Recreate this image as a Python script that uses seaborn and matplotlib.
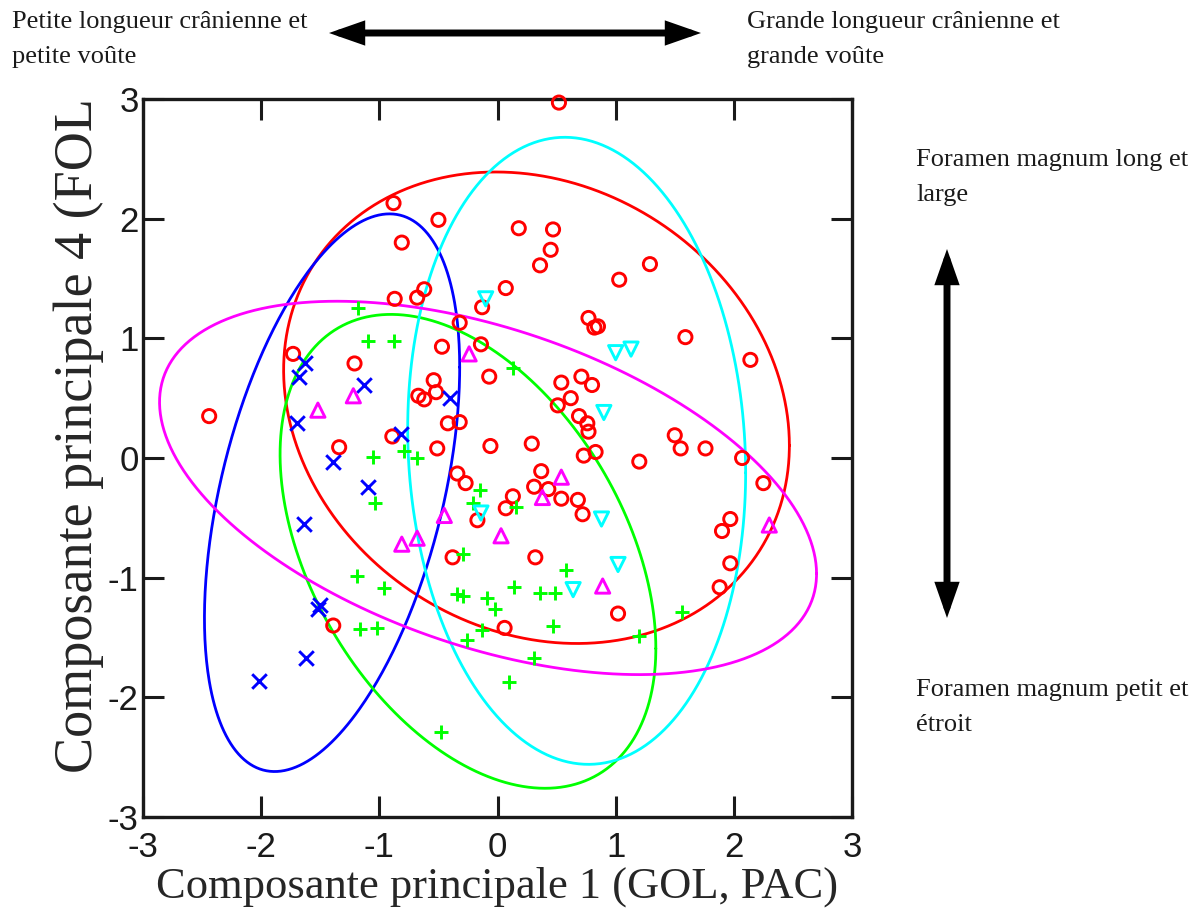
import numpy as np
import pandas as pd
import matplotlib
matplotlib.use('Agg')
from matplotlib import pyplot as plt
from matplotlib.patches import FancyArrowPatch

import seaborn as sns
sns.set_theme(style='ticks', rc={
    'axes.edgecolor': 'k',
    'xtick.color': 'k',
    'ytick.color': 'k',
    'text.color': 'k',
})
plt.rcParams['font.family'] = ['Liberation Serif', 'DejaVu Serif']

W, H = 1199, 911

# groupe 1 : cercles rouges
red_x = [-0.88, -0.50, -0.81, -0.62, -0.87, -0.68, -0.13, 0.07, -0.32, -1.73,
         -1.21, -0.47, -0.14, -0.07, -0.54, -0.52, -0.67, -0.62, -2.44, -0.32,
         -0.42, -0.89, -0.06, -0.51, -1.34, 0.52, 0.18, 0.47, 0.45, 0.36,
         1.29, 1.03, 0.77, 0.82, 0.85, 1.59, 2.14, 0.54, 0.71, 0.80,
         0.62, 0.51, 0.69, 0.76, 0.77, 0.29, 1.50, 1.55, 1.76, 2.07,
         0.73, 0.83, 1.20, 2.25, 0.37, 0.31, 0.43, 0.13, 0.07, 0.54,
         0.68, 0.72, 1.97, 1.90, 1.97, 1.88, 0.32, 1.02, 0.06, -0.34,
         -0.27, -0.17, -0.38, -1.39]
red_y = [2.13, 1.99, 1.80, 1.41, 1.33, 1.34, 1.26, 1.42, 1.13, 0.87,
         0.79, 0.93, 0.95, 0.68, 0.65, 0.55, 0.52, 0.49, 0.35, 0.30,
         0.29, 0.18, 0.10, 0.08, 0.09, 2.97, 1.92, 1.91, 1.74, 1.61,
         1.62, 1.49, 1.17, 1.09, 1.10, 1.01, 0.82, 0.63, 0.68, 0.61,
         0.50, 0.44, 0.35, 0.29, 0.22, 0.12, 0.19, 0.08, 0.08, 0.00,
         0.02, 0.05, -0.03, -0.21, -0.11, -0.24, -0.26, -0.32, -0.42, -0.34,
         -0.35, -0.47, -0.51, -0.61, -0.88, -1.08, -0.83, -1.30, -1.42, -0.13,
         -0.21, -0.52, -0.83, -1.40]

# groupe 2 : croix bleues
blue_x = [-1.63, -1.68, -1.13, -0.40, -1.70, -0.82, -1.39, -1.10, -1.64, -1.50,
          -1.52, -1.62, -2.02]
blue_y = [0.79, 0.68, 0.61, 0.50, 0.29, 0.20, -0.03, -0.24, -0.55, -1.23,
          -1.26, -1.67, -1.86]

# groupe 3 : plus verts
green_x = [-1.18, -1.10, -0.88, 0.13, -1.05, -0.79, -0.68, -0.15, -0.21, -1.04,
           0.16, -0.29, -1.19, -0.96, -0.34, -0.29, -0.09, -0.02, -1.16, -1.02,
           -0.26, -0.13, -0.48, 0.58, 0.14, 0.36, 0.49, 0.47, 1.56, 1.20,
           0.31, 0.10]
green_y = [1.25, 0.98, 0.98, 0.75, 0.01, 0.06, 0.00, -0.27, -0.38, -0.38,
           -0.41, -0.80, -0.99, -1.09, -1.14, -1.15, -1.17, -1.26, -1.43, -1.42,
           -1.52, -1.44, -2.29, -0.94, -1.08, -1.13, -1.13, -1.40, -1.29, -1.49,
           -1.67, -1.87]

# groupe 4 : triangles magenta
mag_x = [-0.24, -1.22, -1.52, -0.45, -0.68, -0.81, 0.03, 0.54, 0.38, 2.30, 0.89]
mag_y = [0.87, 0.52, 0.40, -0.48, -0.67, -0.72, -0.65, -0.16, -0.33, -0.56, -1.07]

# groupe 5 : triangles inverses cyan
cyan_x = [-0.10, 1.00, 1.13, 0.90, -0.14, 0.88, 1.02, 0.64]
cyan_y = [1.33, 0.88, 0.91, 0.38, -0.46, -0.51, -0.89, -1.10]

# ellipses : centre, etendue x/y, correlation
ell_colors = ['#ff0000', '#0000ff', '#00ff00', '#00ffff', '#ff00ff']
ell_cx = [0.33, -1.40, -0.25, 0.67, -0.08]
ell_cy = [0.42, -0.29, -0.78, 0.06, -0.25]
ell_sx = [2.14, 1.08, 1.59, 1.43, 2.78]
ell_sy = [1.97, 2.33, 1.98, 2.62, 1.56]
ell_r = [-0.16, 0.45, -0.41, -0.07, -0.46]

ticks = [-3, -2, -1, 0, 1, 2, 3]
tick_labels = ['-3', '-2', '-1', '0', '1', '2', '3']

groups = [
    (red_x, red_y, '#ff0000', 'o', True),
    (green_x, green_y, '#00ff00', '+', False),
    (blue_x, blue_y, '#0000ff', 'x', False),
    (mag_x, mag_y, '#ff00ff', '^', True),
    (cyan_x, cyan_y, '#00ffff', 'v', True),
]

fig = plt.figure(figsize=(W / 100, H / 100), dpi=100)
ax = fig.add_axes([143 / W, 1 - 817 / H, 709 / W, 718 / H])

t = np.linspace(0, 2 * np.pi, 400)
for col, cx, cy, sx, sy, r in zip(ell_colors, ell_cx, ell_cy, ell_sx, ell_sy, ell_r):
    ex = cx + sx * np.cos(t)
    ey = cy + sy * (r * np.cos(t) + np.sqrt(1 - r ** 2) * np.sin(t))
    ax.plot(ex, ey, color=col, lw=2.0, zorder=2)

for gx, gy, col, mk, hollow in groups:
    df = pd.DataFrame({'x': gx, 'y': gy})
    if hollow:
        sns.scatterplot(data=df, x='x', y='y', marker=mk, s=90 if mk == 'o' else 105,
                        facecolor='none', edgecolor=col, linewidth=2.1,
                        clip_on=False, zorder=3, ax=ax)
    else:
        sns.scatterplot(data=df, x='x', y='y', marker=mk, s=110, color=col,
                        linewidth=2.1, clip_on=False, zorder=3, ax=ax)

ax.set_xlim(-3, 3)
ax.set_ylim(-3, 3)
ax.set_xticks(ticks)
ax.set_xticklabels(tick_labels)
ax.set_yticks(ticks)
ax.set_yticklabels(tick_labels)
ax.tick_params(direction='in', length=15, width=2.2, top=True, right=True,
               bottom=True, left=True, labelsize=25)
ax.tick_params(axis='x', pad=10)
ax.tick_params(axis='y', pad=3)
for lab in ax.get_xticklabels() + ax.get_yticklabels():
    lab.set_family(['Liberation Sans', 'DejaVu Sans'])
for sp in ax.spines.values():
    sp.set_linewidth(2.4)
    sp.set_color('k')

ax.set_xlabel('Composante principale 1 (GOL, PAC)', fontsize=32, va='center')
ax.xaxis.set_label_coords(0.5, -0.097)
ax.set_ylabel('Composante principale 4 (FOL', fontsize=39, va='center')
ax.yaxis.set_label_coords(-0.09, 0.531)

txt_kw = dict(fontsize=19, linespacing=1.75, va='top', ha='left')
fig.text(12 / W, 1 - 11 / H, 'Petite longueur crânienne et\npetite voûte', **txt_kw)
fig.text(747 / W, 1 - 11 / H, 'Grande longueur crânienne et\ngrande voûte', **txt_kw)
fig.text(916 / W, 1 - 149 / H, 'Foramen magnum long et\nlarge', **txt_kw)
fig.text(916 / W, 1 - 679 / H, 'Foramen magnum petit et\nétroit', **txt_kw)

arrow_kw = dict(arrowstyle='<|-|>,head_length=0.8,head_width=0.28', color='#000000',
                lw=5, mutation_scale=20, shrinkA=0, shrinkB=0,
                joinstyle='miter', transform=fig.transFigure)
fig.add_artist(FancyArrowPatch((329 / W, 1 - 33 / H), (701 / W, 1 - 33 / H), **arrow_kw))
fig.add_artist(FancyArrowPatch((947 / W, 1 - 249 / H), (947 / W, 1 - 618 / H), **arrow_kw))

fig.savefig('out.png', dpi=100)
